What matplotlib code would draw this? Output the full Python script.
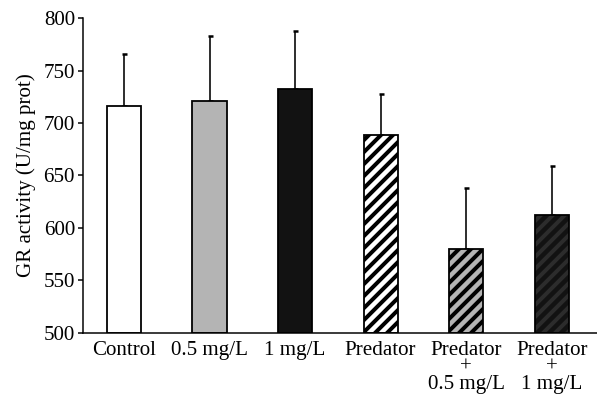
import matplotlib
matplotlib.use('Agg')
import matplotlib.pyplot as plt

groups = ['Control', '0.5 mg/L', '1 mg/L', 'Predator',
          'Predator\n+\n0.5 mg/L', 'Predator\n+\n1 mg/L']
means = [716, 721, 732, 689, 580, 612]
errors = [50, 62, 56, 39, 58, 47]
fills = ['white', '#b4b4b4', '#121212', 'white', '#b4b4b4', '#121212']
hatch_colors = [None, None, None, 'black', 'black', '#2c2c2c']

plt.rcParams['font.family'] = ['Liberation Serif', 'DejaVu Serif']
plt.rcParams['hatch.linewidth'] = 4.0

# dpi 72 keeps the hatch stripe spacing close to the reference
fig = plt.figure(figsize=(597 / 72, 401 / 72), dpi=72)
ax = fig.add_axes([0.139, 0.17, 0.861, 0.785])

x = list(range(len(groups)))
w = 0.4

for i in x:
    if hatch_colors[i]:
        ax.bar(i, means[i] - 500, w, bottom=500, color=fills[i],
               edgecolor=hatch_colors[i], hatch='//', linewidth=0, zorder=2)
        ax.bar(i, means[i] - 500, w, bottom=500, fill=False,
               edgecolor='black', linewidth=1.8, zorder=3)
    else:
        ax.bar(i, means[i] - 500, w, bottom=500, color=fills[i],
               edgecolor='black', linewidth=1.8, zorder=2)

ax.errorbar(x, means, yerr=[[0] * len(errors), errors], fmt='none',
            ecolor='black', elinewidth=1.6, capsize=2.5, capthick=2.5, zorder=1)

ax.set_ylim(500, 800)
ax.set_yticks([500, 550, 600, 650, 700, 750, 800])
ax.set_xlim(-0.48, 5.53)
ax.set_xticks(x)
ax.set_xticklabels(groups, linespacing=0.85)
ax.tick_params(axis='x', length=0, pad=8, labelsize=21)
ax.tick_params(axis='y', length=5, width=1.5, pad=3, labelsize=21)
ax.set_ylabel('GR activity (U/mg prot)', fontsize=21, labelpad=8)

for s in ['top', 'right']:
    ax.spines[s].set_visible(False)
for s in ['left', 'bottom']:
    ax.spines[s].set_linewidth(1.5)

plt.savefig('out.png', dpi=72)
plt.close(fig)
